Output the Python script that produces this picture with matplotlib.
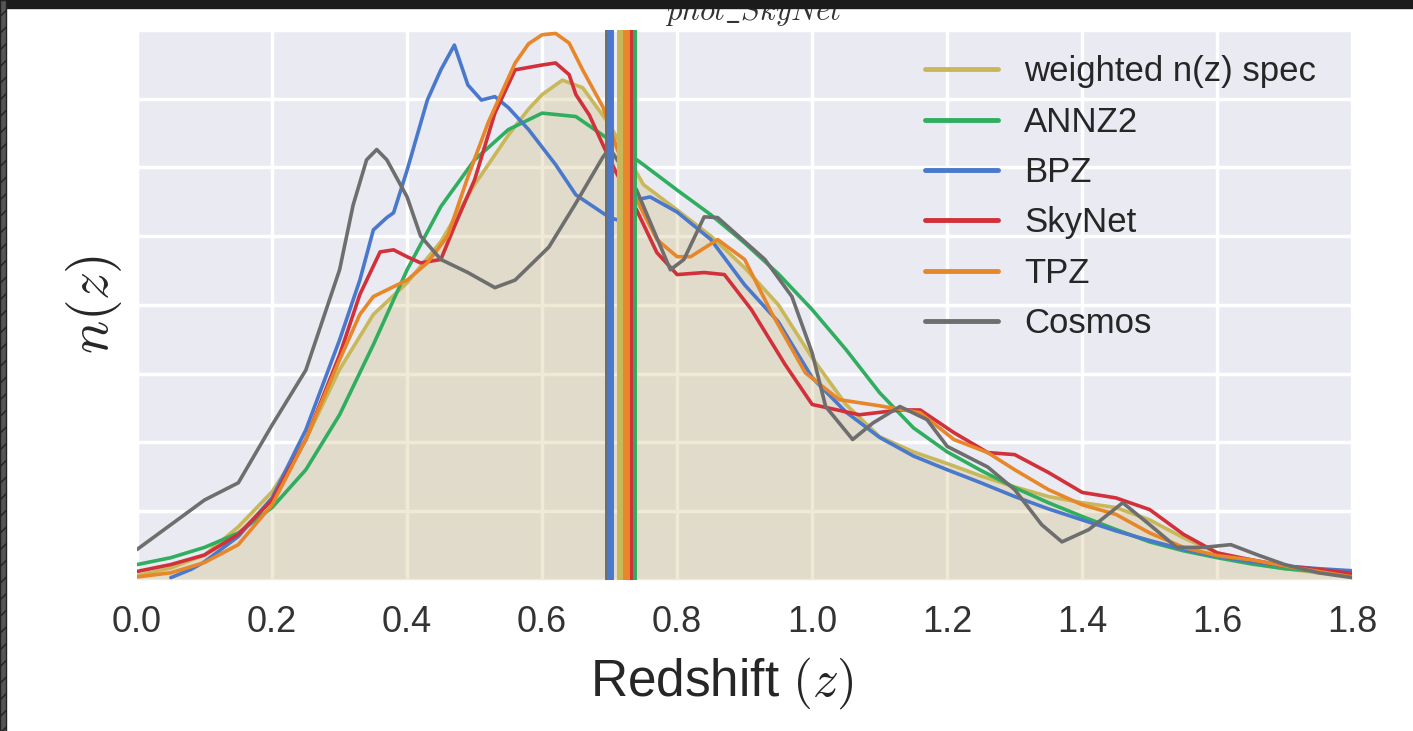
import numpy as np
import matplotlib.pyplot as plt
from matplotlib.patches import Rectangle

# redshift samples and n(z) values (arbitrary units, 8 grid steps high)
z_spec = [0.00, 0.05, 0.10, 0.15, 0.20, 0.25, 0.30, 0.35, 0.40, 0.45, 0.50, 0.55, 0.58, 0.60, 0.63,
          0.66, 0.70, 0.75, 0.80, 0.85, 0.90, 0.95, 1.00, 1.05, 1.10, 1.15, 1.20, 1.25, 1.30, 1.35,
          1.40, 1.45, 1.50, 1.55, 1.60, 1.65, 1.70, 1.75, 1.80]
n_spec = [0.06, 0.17, 0.36, 0.77, 1.28, 2.04, 3.06, 3.86, 4.32, 4.92, 5.75, 6.47, 6.85, 7.06, 7.27,
          7.16, 6.62, 5.75, 5.38, 5.00, 4.54, 4.00, 3.23, 2.55, 2.08, 1.86, 1.69, 1.51, 1.35, 1.21,
          1.12, 1.05, 0.87, 0.61, 0.39, 0.25, 0.16, 0.10, 0.07]

z_annz = [0.00, 0.05, 0.10, 0.15, 0.20, 0.25, 0.30, 0.35, 0.40, 0.45, 0.50, 0.55, 0.60, 0.65, 0.70,
          0.75, 0.80, 0.85, 0.90, 0.95, 1.00, 1.05, 1.10, 1.15, 1.20, 1.25, 1.30, 1.35, 1.40, 1.45,
          1.50, 1.55, 1.60, 1.65, 1.70, 1.75, 1.80]
n_annz = [0.22, 0.32, 0.47, 0.68, 1.05, 1.60, 2.40, 3.42, 4.51, 5.43, 6.11, 6.55, 6.79, 6.74, 6.40,
          6.04, 5.67, 5.31, 4.90, 4.45, 3.93, 3.35, 2.72, 2.21, 1.86, 1.59, 1.34, 1.12, 0.92, 0.73,
          0.55, 0.42, 0.32, 0.23, 0.16, 0.12, 0.09]

z_bpz = [0.05, 0.08, 0.10, 0.15, 0.20, 0.25, 0.30, 0.33, 0.35, 0.37, 0.38, 0.40, 0.43, 0.45, 0.47,
         0.49, 0.51, 0.53, 0.55, 0.58, 0.62, 0.65, 0.70, 0.72, 0.74, 0.76, 0.80, 0.85, 0.90, 0.95,
         1.00, 1.05, 1.10, 1.15, 1.20, 1.25, 1.30, 1.35, 1.40, 1.45, 1.50, 1.55, 1.60, 1.65, 1.70,
         1.75, 1.80]
n_bpz = [0.03, 0.15, 0.26, 0.63, 1.19, 2.18, 3.49, 4.36, 5.09, 5.27, 5.34, 5.96, 6.98, 7.42, 7.78,
         7.20, 6.98, 7.03, 6.87, 6.55, 6.04, 5.60, 5.27, 5.21, 5.53, 5.57, 5.35, 4.95, 4.29, 3.75,
         2.94, 2.44, 2.07, 1.80, 1.60, 1.41, 1.21, 1.03, 0.87, 0.71, 0.57, 0.44, 0.34, 0.26, 0.20,
         0.16, 0.13]

z_skynet = [0.00, 0.05, 0.10, 0.15, 0.20, 0.25, 0.30, 0.33, 0.36, 0.38, 0.40, 0.42, 0.45, 0.47, 0.50,
            0.53, 0.56, 0.60, 0.62, 0.64, 0.65, 0.67, 0.69, 0.71, 0.74, 0.77, 0.80, 0.84, 0.87, 0.91,
            0.96, 1.00, 1.07, 1.13, 1.16, 1.21, 1.26, 1.30, 1.35, 1.40, 1.45, 1.50, 1.55, 1.60, 1.65,
            1.70, 1.75, 1.80]
n_skynet = [0.12, 0.22, 0.36, 0.66, 1.16, 2.04, 3.27, 4.15, 4.77, 4.80, 4.70, 4.61, 4.66, 5.14, 5.82,
            6.79, 7.42, 7.49, 7.52, 7.35, 7.06, 6.76, 6.33, 5.92, 5.38, 4.76, 4.44, 4.47, 4.44, 3.93,
            3.13, 2.55, 2.40, 2.47, 2.47, 2.14, 1.85, 1.82, 1.56, 1.27, 1.19, 1.02, 0.66, 0.39, 0.29,
            0.20, 0.15, 0.09]

z_tpz = [0.00, 0.05, 0.10, 0.15, 0.20, 0.25, 0.30, 0.33, 0.35, 0.40, 0.43, 0.46, 0.49, 0.52, 0.56,
         0.58, 0.60, 0.62, 0.64, 0.66, 0.69, 0.71, 0.74, 0.77, 0.80, 0.82, 0.86, 0.90, 0.94, 0.99,
         1.04, 1.10, 1.16, 1.21, 1.26, 1.30, 1.35, 1.40, 1.45, 1.50, 1.55, 1.60, 1.65, 1.70, 1.75,
         1.80]
n_tpz = [0.04, 0.10, 0.25, 0.51, 1.09, 2.04, 3.20, 3.86, 4.12, 4.36, 4.61, 5.00, 5.86, 6.65, 7.52,
         7.80, 7.93, 7.95, 7.81, 7.42, 6.88, 6.30, 5.53, 4.95, 4.70, 4.70, 4.95, 4.66, 3.88, 3.01,
         2.62, 2.53, 2.43, 2.04, 1.85, 1.60, 1.31, 1.09, 0.95, 0.68, 0.47, 0.35, 0.29, 0.20, 0.12,
         0.04]

z_cosmos = [0.00, 0.05, 0.10, 0.15, 0.20, 0.25, 0.30, 0.32, 0.34, 0.355, 0.37, 0.40, 0.42, 0.45, 0.49,
            0.53, 0.56, 0.61, 0.65, 0.69, 0.70, 0.74, 0.79, 0.81, 0.84, 0.86, 0.93, 0.97, 1.00, 1.02,
            1.06, 1.09, 1.13, 1.17, 1.20, 1.26, 1.30, 1.34, 1.37, 1.41, 1.46, 1.50, 1.54, 1.58, 1.62,
            1.66, 1.70, 1.75, 1.80]
n_cosmos = [0.44, 0.80, 1.16, 1.41, 2.25, 3.05, 4.51, 5.45, 6.11, 6.26, 6.11, 5.57, 5.00, 4.66, 4.47,
            4.25, 4.36, 4.84, 5.48, 6.15, 6.28, 5.67, 4.51, 4.66, 5.28, 5.27, 4.66, 4.12, 3.30, 2.52,
            2.04, 2.28, 2.52, 2.33, 1.94, 1.64, 1.31, 0.80, 0.55, 0.73, 1.12, 0.80, 0.47, 0.47, 0.51,
            0.36, 0.22, 0.10, 0.03]

labels = ['weighted n(z) spec', 'ANNZ2', 'BPZ', 'SkyNet', 'TPZ', 'Cosmos']
means = [0.716, 0.735, 0.700, 0.729, 0.724, 0.697]
colors = ['#C9B85A', '#2FAE60', '#4A78CC', '#D2303A', '#E8862A', '#6E6E6E']

series = [(z_spec, n_spec), (z_annz, n_annz), (z_bpz, n_bpz),
          (z_skynet, n_skynet), (z_tpz, n_tpz), (z_cosmos, n_cosmos)]

plt.rcParams['font.family'] = ['Liberation Sans', 'DejaVu Sans']
plt.rcParams['mathtext.fontset'] = 'cm'

fig = plt.figure(figsize=(14.13, 7.31), dpi=100)
ax = fig.add_axes([0.097, 0.207, 0.860, 0.752])
ax.set_facecolor('#EAEAF2')
for s in ax.spines.values():
    s.set_visible(False)
ax.grid(True, color='white', linewidth=2.5, zorder=0)
ax.set_axisbelow(True)

ax.fill_between(z_spec, n_spec, color='#CCB974', alpha=0.3, linewidth=0, zorder=1)
for (z, n), lab, c in zip(series, labels, colors):
    ax.plot(z, n, color=c, linewidth=2.6, label=lab, zorder=3,
            solid_joinstyle='round', solid_capstyle='round')

# mean redshift markers
order = [5, 0, 1, 2, 3, 4]
for i in order:
    ax.axvline(means[i], color=colors[i], linewidth=5, zorder=4)

ax.set_xlim(0, 1.8)
ax.set_ylim(0, 8)
ax.set_xticks(np.arange(0, 1.81, 0.2))
ax.set_xticklabels(['%.1f' % t for t in np.arange(0, 1.81, 0.2)])
ax.set_yticks(np.arange(0, 8.1, 1))
ax.set_yticklabels([])
ax.tick_params(length=0, labelsize=26, colors='#333333', pad=18)
ax.set_xlabel(r'Redshift $(z)$', fontsize=37, color='#262626')
ax.xaxis.set_label_coords(0.481, -0.138)
ax.set_ylabel(r'$n(z)$', fontsize=40, color='#262626')
ax.yaxis.set_label_coords(-0.011, 0.5)

leg = ax.legend(loc='upper right', frameon=False, fontsize=25, handlelength=2.1,
                handletextpad=0.75, labelspacing=0.5, bbox_to_anchor=(0.99, 0.998),
                borderaxespad=0.3)
for line in leg.get_lines():
    line.set_linewidth(3.5)
for t in leg.get_texts():
    t.set_color('#262626')

fig.text(0.533, 0.972, r'$phot\_SkyNet$', fontsize=22, ha='center', va='baseline', color='#333333')

# dark screenshot frame
fig.patches.append(Rectangle((0, 1 - 8 / 731), 1, 8 / 731, transform=fig.transFigure,
                             color='#1b1b1b', zorder=10))
fig.patches.append(Rectangle((0, 0), 6 / 1413, 1, transform=fig.transFigure,
                             facecolor='#555555', edgecolor='#222222', hatch='//', zorder=10))

fig.savefig('out.png', dpi=100)
